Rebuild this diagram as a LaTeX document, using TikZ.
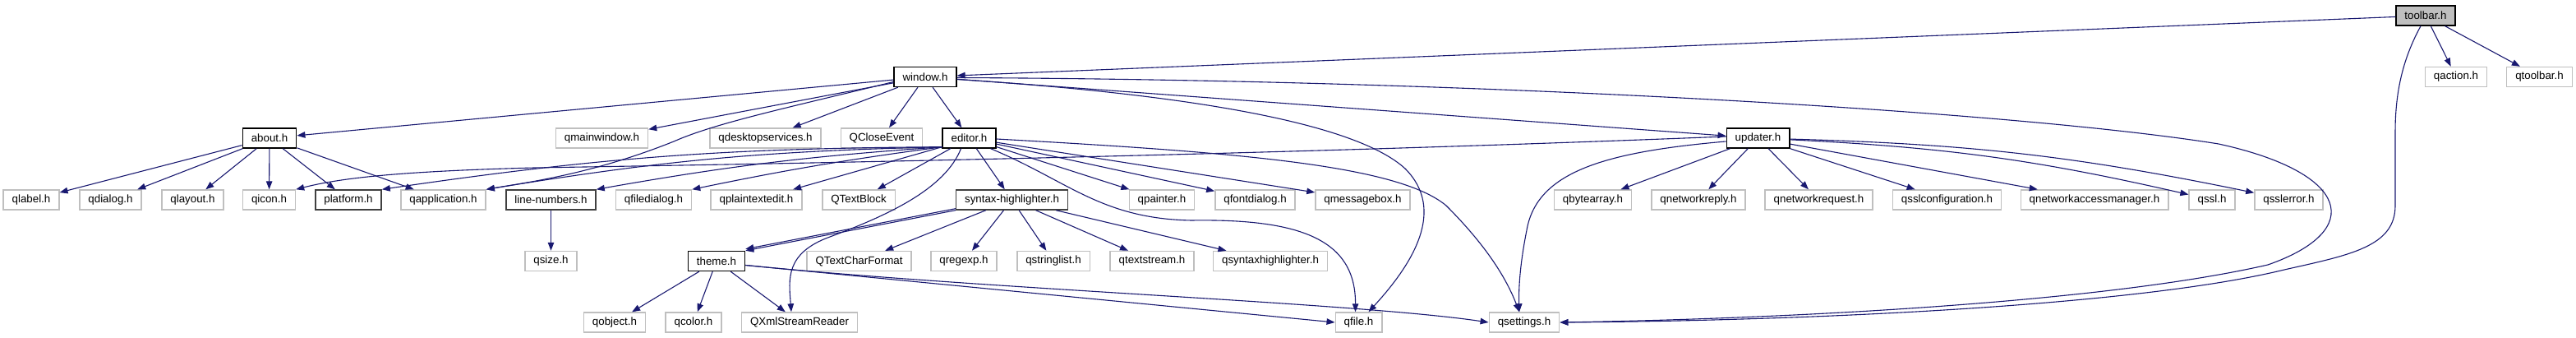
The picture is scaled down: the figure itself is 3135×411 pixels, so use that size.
\documentclass[tikz,border=0pt]{standalone}
\usepackage{fontspec}
\setmainfont{Liberation Sans}
\usetikzlibrary{arrows.meta}
\definecolor{edgeblue}{RGB}{25,25,112}
\definecolor{extgrey}{RGB}{191,191,191}
\definecolor{locgrey}{RGB}{64,64,64}

\begin{document}
\begin{tikzpicture}[x=1pt,y=-1pt,
	box/.style={draw,line width=1.4pt,minimum height=24pt,inner xsep=10.5pt,inner ysep=0pt,font=\fontsize{13.33}{16}\selectfont},
	file/.style={box,draw=black},
	local/.style={box,draw=locgrey},
	ext/.style={box,draw=extgrey},
	dep/.style={edgeblue,line width=1.1pt,-{Triangle[length=10pt,width=7.5pt]}}]

%	\draw[step=100,gray,very thin] (0,0) grid (3135,411);
	\useasboundingbox (0,0) rectangle (3135,411);

	\node (toolbar) at (2952,19) [file,fill=extgrey] {toolbar.h};

	\node (window) at (1126,93.5) [file] {window.h};
	\node (qaction) at (2989,93.5) [ext] {qaction.h};
	\node (qtoolbar) at (3090.5,93.5) [ext] {qtoolbar.h};

	\node (about) at (328,168) [file] {about.h};
	\node (qmainwindow) at (732.5,168) [ext] {qmainwindow.h};
	\node (qdesktopservices) at (931.5,168) [ext] {qdesktopservices.h};
	\node (qcloseevent) at (1073,168) [ext] {QCloseEvent};
	\node (editor) at (1179.5,168) [file] {editor.h};
	\node (updater) at (2139.5,168) [file] {updater.h};

	\node (qlabel) at (38,243) [ext] {qlabel.h};
	\node (qdialog) at (134.5,243) [ext] {qdialog.h};
	\node (qlayout) at (234.5,243) [ext] {qlayout.h};
	\node (qicon) at (327.5,243) [ext] {qicon.h};
	\node (platform) at (424,243) [local] {platform.h};
	\node (qapplication) at (539.5,243) [ext] {qapplication.h};
	\node (linenumbers) at (670.5,243) [local] {line-numbers.h};
	\node (qfiledialog) at (795.5,243) [ext] {qfiledialog.h};
	\node (qplaintextedit) at (920.5,243) [ext] {qplaintextedit.h};
	\node (qtextblock) at (1045,243) [ext] {QTextBlock};
	\node (synhl) at (1231.5,243) [local] {syntax-highlighter.h};
	\node (qpainter) at (1414,243) [ext] {qpainter.h};
	\node (qfontdialog) at (1527.5,243) [ext] {qfontdialog.h};
	\node (qmessagebox) at (1658.5,243) [ext] {qmessagebox.h};
	\node (qbytearray) at (1938.5,243) [ext] {qbytearray.h};
	\node (qnetworkreply) at (2067,243) [ext] {qnetworkreply.h};
	\node (qnetworkrequest) at (2213.5,243) [ext] {qnetworkrequest.h};
	\node (qsslconfiguration) at (2369.5,243) [ext] {qsslconfiguration.h};
	\node (qnetworkaccessmanager) at (2549,243) [ext] {qnetworkaccessmanager.h};
	\node (qssl) at (2692,243) [ext] {qssl.h};
	\node (qsslerror) at (2785.5,243) [ext] {qsslerror.h};

	\node (qsize) at (670.5,317.5) [ext] {qsize.h};
	\node (theme) at (872,317.5) [file] {theme.h};
	\node (qtextcharformat) at (1045.5,317.5) [ext] {QTextCharFormat};
	\node (qregexp) at (1173,317.5) [ext] {qregexp.h};
	\node (qstringlist) at (1282,317.5) [ext] {qstringlist.h};
	\node (qtextstream) at (1402,317.5) [ext] {qtextstream.h};
	\node (qsyntaxhighlighter) at (1546,317.5) [ext] {qsyntaxhighlighter.h};

	\node (qobject) at (748,392) [ext] {qobject.h};
	\node (qcolor) at (844,392) [ext] {qcolor.h};
	\node (qxmlstreamreader) at (973,392) [ext] {QXmlStreamReader};
	\node (qfile) at (1653.5,392) [ext] {qfile.h};
	\node (qsettings) at (1855,392) [ext] {qsettings.h};

	% toolbar.h
	\draw[dep] (toolbar) -- (window);
	\draw[dep] (toolbar) -- (qaction);
	\draw[dep] (toolbar) -- (qtoolbar);
	\draw[dep] ([xshift=-6pt]toolbar.south) .. controls (2925,70) and (2915,110) .. (2915,160) -- (2915,250) .. controls (2915,300) and (2860,310) .. (2780,328) .. controls (2600,372) and (2200,390) .. (qsettings.east);

	% window.h
	\draw[dep] (window) -- (about);
	\draw[dep] (window) -- (qmainwindow);
	\draw[dep] ([yshift=-6pt]window.west) .. controls (950,133) and (870,150) .. (820,172) .. controls (720,212) and (640,222) .. (qapplication.north east);
	\draw[dep] (window) -- (qdesktopservices);
	\draw[dep] (window) -- (qcloseevent);
	\draw[dep] (window) -- (editor);
	\draw[dep] (window) -- (updater);
	\draw[dep] ([yshift=-3pt]window.east) .. controls (1450,115) and (1650,150) .. (1710,205) .. controls (1760,255) and (1720,320) .. ([xshift=12pt]qfile.north);
	\draw[dep] ([yshift=-1pt]window.east) .. controls (1800,97) and (2450,135) .. (2700,175) .. controls (2860,210) and (2880,280) .. (2760,322) .. controls (2550,370) and (2150,388) .. (qsettings.east);

	% about.h
	\draw[dep] (about) -- (qlabel);
	\draw[dep] (about) -- (qdialog);
	\draw[dep] (about) -- (qlayout);
	\draw[dep] (about) -- (qicon);
	\draw[dep] (about) -- (platform);
	\draw[dep] (about) -- (qapplication);

	% editor.h
	\draw[dep] ([yshift=2pt]editor.south west) to [bend right=4] (platform.north east);
	\draw[dep] ([yshift=2pt]editor.south west) to [bend right=4] (qapplication.north east);
	\draw[dep] ([yshift=2pt]editor.south west) to [bend right=3] (linenumbers.north east);
	\draw[dep] ([yshift=2pt]editor.south west) to [bend right=2] (qfiledialog.north east);
	\draw[dep] ([yshift=2pt]editor.south west) -- (qplaintextedit);
	\draw[dep] (editor) -- (qtextblock);
	\draw[dep] (editor) -- (synhl);
	\draw[dep] (editor) -- (qpainter);
	\draw[dep] (editor) -- (qfontdialog);
	\draw[dep] (editor) -- (qmessagebox);
	\draw[dep] ([yshift=-1pt]editor.east) .. controls (1500,185) and (1700,200) .. (1760,250) .. controls (1800,290) and (1830,330) .. ([xshift=-6pt]qsettings.north);
	\draw[dep] ([xshift=-7pt]editor.south east) .. controls (1300,220) and (1340,266) .. (1450,268) .. controls (1580,266) and (1650,290) .. ([xshift=-4pt]qfile.north);
	\draw[dep] ([xshift=-10pt]editor.south) .. controls (1150,230) and (1080,262) .. (1010,288) .. controls (955,308) and (960,340) .. ([xshift=-10pt]qxmlstreamreader.north);

	% updater.h
	\draw[dep] ([yshift=2pt]updater.west) .. controls (1500,190) and (900,200) .. (650,204) .. controls (500,208) and (420,215) .. (qicon.north east);
	\draw[dep] ([yshift=-4pt]updater.west) .. controls (1950,185) and (1870,210) .. (1858,280) .. controls (1850,320) and (1848,350) .. ([xshift=-6pt]qsettings.north);
	\draw[dep] (updater) -- (qbytearray);
	\draw[dep] (updater) -- (qnetworkreply);
	\draw[dep] (updater) -- (qnetworkrequest);
	\draw[dep] (updater) -- (qsslconfiguration);
	\draw[dep] (updater) -- (qnetworkaccessmanager);
	\draw[dep] (updater) to [bend left=5] (qssl);
	\draw[dep] (updater) to [bend left=5] (qsslerror);

	% syntax-highlighter.h
	\draw[dep] (synhl.south west) -- (theme.north east);
	\draw[dep] ([yshift=2pt]synhl.south west) -- ([yshift=2pt]theme.north east);
	\draw[dep] (synhl) -- (qtextcharformat);
	\draw[dep] (synhl) -- (qregexp);
	\draw[dep] (synhl) -- (qstringlist);
	\draw[dep] (synhl) -- (qtextstream);
	\draw[dep] (synhl) -- (qsyntaxhighlighter);

	% theme.h
	\draw[dep] (theme) -- (qobject);
	\draw[dep] (theme) -- (qcolor);
	\draw[dep] (theme) -- (qxmlstreamreader);
	\draw[dep] ([yshift=-5pt]theme.east) -- (qfile.west);
	\draw[dep] ([yshift=-5pt]theme.east) .. controls (1200,352) and (1650,368) .. (qsettings.west);

	% line-numbers.h
	\draw[dep] (linenumbers) -- (qsize);

\end{tikzpicture}
\end{document}
